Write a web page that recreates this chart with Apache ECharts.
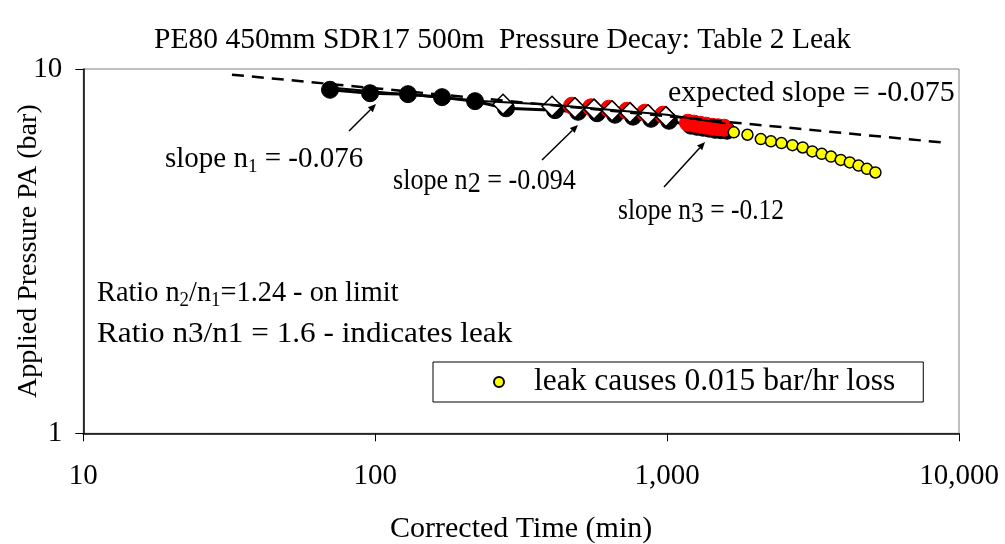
<!DOCTYPE html>
<html>
<head>
<meta charset="utf-8">
<script src="https://cdn.jsdelivr.net/npm/echarts@6/dist/echarts.min.js"></script>
<style>
  html, body { margin: 0; padding: 0; background: #ffffff; }
  #chart { width: 1005px; height: 544px; }
</style>
</head>
<body>
<div id="chart"></div>
<script>
// Pressure decay test, PE80 450mm SDR17 500m main (log-log)
const xTicks = [10, 100, 1000, 10000];
const yTicks = [1, 10];

// All logged readings: corrected time (min) vs applied pressure (bar)
const allTime = [70.0, 96.0, 129.5, 169.4, 219.8, 280.6, 413.0, 495.2, 575.4, 663.0,
  764.1, 880.9, 1015, 1207, 1266, 1327, 1391, 1459, 1530, 1604];
const allPressure = [8.77, 8.58, 8.53, 8.37, 8.16, 7.80, 7.71, 7.63, 7.56, 7.49,
  7.40, 7.30, 7.21, 6.99, 6.94, 6.90, 6.86, 6.81, 6.79, 6.77];

// n3 window readings
const n3Time = [472.3, 548.7, 632.4, 728.8, 840.2, 968.3, 1179, 1237, 1297, 1359, 1425, 1494, 1567];
const n3Pressure = [7.93, 7.85, 7.78, 7.68, 7.59, 7.49, 7.12, 7.08, 7.03, 6.99, 6.94, 6.92, 6.90];

// n2 window readings
const n2Time = [274.1, 403.4, 483.6, 561.9, 647.5, 746.3, 860.2, 991.3];
const n2Pressure = [8.00, 7.90, 7.83, 7.76, 7.68, 7.59, 7.49, 7.40];

// Readings with the leak running
const leakTime = [1692, 1885, 2094, 2269, 2465, 2688, 2915, 3144, 3387, 3644, 3934, 4225, 4527, 4836, 5172];
const leakPressure = [6.70, 6.60, 6.42, 6.33, 6.26, 6.18, 6.09, 5.94, 5.85, 5.75, 5.63, 5.54, 5.43, 5.32, 5.20];

// Fitted trend through the readings
const fitTime = [70, 221.5, 403, 999, 1590];
const fitPressure = [8.89, 8.18, 7.98, 7.49, 7.08];

// Expected decay, slope -0.075
const expectedTime = [32.3, 8710];
const expectedPressure = [9.65, 6.29];

const leakName = 'leak causes 0.015 bar/hr loss';

const zip = (xs, ys) => xs.map((x, i) => [x, ys[i]]);
const SERIF = '"Liberation Serif", "Times New Roman", serif';

function arrow(x1, y1, x2, y2) {
  const a = Math.atan2(y2 - y1, x2 - x1);
  const L = 8, W = 3.5;
  const bx = x2 - L * Math.cos(a), by = y2 - L * Math.sin(a);
  return [
    { type: 'line', z: 100, shape: { x1: x1, y1: y1, x2: bx, y2: by },
      style: { stroke: '#000', lineWidth: 1.5 } },
    { type: 'polygon', z: 100,
      shape: { points: [[x2, y2], [bx + W * Math.sin(a), by - W * Math.cos(a)], [bx - W * Math.sin(a), by + W * Math.cos(a)]] },
      style: { fill: '#000' } }
  ];
}

// Text note with subscript ({sub|..}) and lowered full-size digits ({low|..});
// sx narrows or widens the text box horizontally.
function note(x, y, text, size, sx) {
  const lh = Math.round(size * 1.2);
  const rich = {
    t: { fontSize: size, fontFamily: SERIF, lineHeight: lh, fill: '#000' },
    sub: { fontSize: Math.round(size * 0.66), fontFamily: SERIF, lineHeight: Math.round(size * 0.66),
      verticalAlign: 'bottom', fill: '#000' },
    low: { fontSize: size, fontFamily: SERIF, lineHeight: Math.round(size * 0.93),
      verticalAlign: 'bottom', fill: '#000' }
  };
  return {
    type: 'text', z: 100, x: x, y: y, scaleX: sx || 1,
    style: { text: text, rich: rich, fontSize: size, fontFamily: SERIF, lineHeight: lh,
      fill: '#000', align: 'left', verticalAlign: 'middle' }
  };
}

const chart = echarts.init(document.getElementById('chart'), null, { renderer: 'canvas' });

chart.setOption({
  animation: false,
  backgroundColor: '#ffffff',
  title: {
    text: 'PE80 450mm SDR17 500m  Pressure Decay: Table 2 Leak',
    left: 'center', top: 20,
    textStyle: { fontFamily: SERIF, fontSize: 29.5, fontWeight: 'normal', color: '#000' }
  },
  grid: {
    left: 83.3, right: 46, top: 69, bottom: 110.7,
    outerBoundsMode: 'none', containLabel: false,
    show: true, borderColor: '#808080', borderWidth: 1, backgroundColor: 'transparent'
  },
  legend: {
    data: [{ name: leakName, icon: 'circle' }],
    left: 433, top: 362,
    orient: 'horizontal',
    selectedMode: false,
    itemWidth: 10, itemHeight: 10,
    padding: [4, 28, 4, 60],
    borderColor: '#000', borderWidth: 1, backgroundColor: '#fff',
    textStyle: { fontFamily: SERIF, fontSize: 31.5, color: '#000', padding: [0, 0, 0, 25] }
  },
  xAxis: {
    type: 'log', logBase: 10, min: xTicks[0], max: xTicks[xTicks.length - 1],
    name: 'Corrected Time (min)', nameLocation: 'middle', nameGap: 81, nameMoveOverlap: false,
    nameTextStyle: { fontFamily: SERIF, fontSize: 30, color: '#000' },
    axisLine: { lineStyle: { color: '#000', width: 1.5 } },
    axisTick: { show: true, inside: false, length: 8, lineStyle: { color: '#000', width: 1 } },
    minorTick: { show: false },
    splitLine: { show: false },
    axisLabel: {
      margin: 29, fontFamily: SERIF, fontSize: 29, color: '#000',
      formatter: v => Math.round(v).toLocaleString('en-US')
    }
  },
  yAxis: {
    type: 'log', logBase: 10, min: yTicks[0], max: yTicks[yTicks.length - 1],
    name: 'Applied Pressure PA (bar)', nameLocation: 'middle', nameGap: 41, nameMoveOverlap: false,
    nameTextStyle: { fontFamily: SERIF, fontSize: 28, color: '#000' },
    axisLine: { lineStyle: { color: '#000', width: 1.5 } },
    axisTick: { show: true, inside: false, length: 8, lineStyle: { color: '#000', width: 1 } },
    minorTick: { show: false },
    splitLine: { show: false },
    axisLabel: {
      margin: 21, fontFamily: SERIF, fontSize: 29, color: '#000',
      formatter: v => String(Math.round(v))
    }
  },
  series: [
    {
      name: 'readings', type: 'line', data: zip(allTime, allPressure),
      symbol: 'circle', symbolSize: 17, showSymbol: true,
      lineStyle: { color: '#000', width: 3 },
      itemStyle: { color: '#000', borderColor: '#000', borderWidth: 1 },
      z: 2
    },
    {
      name: 'n3 window', type: 'scatter', data: zip(n3Time, n3Pressure),
      symbol: 'circle', symbolSize: 17,
      itemStyle: { color: '#ff0000', borderColor: '#ff0000', borderWidth: 1, opacity: 1 },
      z: 3
    },
    {
      name: 'n2 window', type: 'scatter', data: zip(n2Time, n2Pressure),
      symbol: 'diamond', symbolSize: [20, 20],
      itemStyle: { color: '#ffffff', borderColor: '#000', borderWidth: 1.5, opacity: 1 },
      z: 4
    },
    {
      name: 'fit', type: 'line', data: zip(fitTime, fitPressure),
      showSymbol: false, symbol: 'none',
      lineStyle: { color: '#000', width: 2 },
      z: 5
    },
    {
      name: 'expected', type: 'line', data: zip(expectedTime, expectedPressure),
      showSymbol: false, symbol: 'none',
      lineStyle: { color: '#000', width: 2.5, type: [12, 8] },
      z: 6
    },
    {
      name: leakName, type: 'scatter', data: zip(leakTime, leakPressure),
      symbol: 'circle', symbolSize: 11,
      itemStyle: { color: '#ffff00', borderColor: '#000', borderWidth: 1.5, opacity: 1 },
      z: 7
    }
  ],
  graphic: [
    note(668, 93, '{t|expected slope = -0.075}', 30),
    note(165, 159, '{t|slope n}{sub|1}{t| = -0.076}', 29),
    note(393, 181, '{t|slope n}{low|2}{t| = -0.094}', 29, 0.9),
    note(618, 211, '{t|slope n}{low|3}{t| = -0.12}', 29, 0.88),
    note(97, 293, '{t|Ratio n}{sub|2}{t|/n}{sub|1}{t|=1.24 - on limit}', 30, 0.944),
    note(97, 334, '{t|Ratio n3/n1 = 1.6 - indicates leak}', 30, 1.04),
    ...arrow(349, 131, 376, 104),
    ...arrow(542, 160, 578, 125),
    ...arrow(664, 187, 705, 142)
  ]
});
</script>
</body>
</html>
